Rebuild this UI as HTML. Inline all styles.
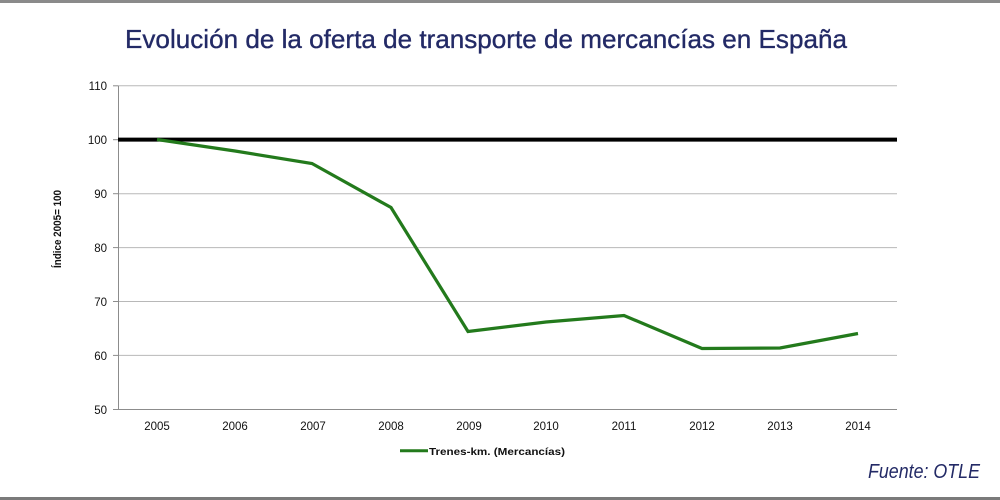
<!DOCTYPE html>
<html>
<head>
<meta charset="utf-8">
<style>
html,body{margin:0;padding:0;background:#fff;}
svg{display:block;}
text{font-family:"Liberation Sans",sans-serif;}
</style>
</head>
<body>
<svg width="1000" height="500" viewBox="0 0 1000 500" xmlns="http://www.w3.org/2000/svg">
  <rect x="0" y="0" width="1000" height="500" fill="#ffffff"/>
  <rect x="0" y="0" width="1000" height="3" fill="#8a8a8a"/>
  <rect x="0" y="497" width="1000" height="3" fill="#7a7a7a"/>

  <!-- Title -->
  <text x="125" y="48" font-size="26" fill="#232a66" stroke="#232a66" stroke-width="0.35" textLength="722" lengthAdjust="spacingAndGlyphs">Evolución de la oferta de transporte de mercancías en España</text>

  <!-- gridlines -->
  <g stroke="#b8b8b8" stroke-width="1">
    <line x1="118" y1="85.8" x2="897" y2="85.8"/>
    <line x1="118" y1="193.7" x2="897" y2="193.7"/>
    <line x1="118" y1="247.6" x2="897" y2="247.6"/>
    <line x1="118" y1="301.5" x2="897" y2="301.5"/>
    <line x1="118" y1="355.4" x2="897" y2="355.4"/>
  </g>
  <!-- axes -->
  <g stroke="#8c8c8c" stroke-width="1">
    <line x1="118.5" y1="85.8" x2="118.5" y2="409.5"/>
    <line x1="118" y1="409.5" x2="897" y2="409.5"/>
    <line x1="113" y1="85.8" x2="118" y2="85.8"/>
    <line x1="113" y1="139.7" x2="118" y2="139.7"/>
    <line x1="113" y1="193.7" x2="118" y2="193.7"/>
    <line x1="113" y1="247.6" x2="118" y2="247.6"/>
    <line x1="113" y1="301.5" x2="118" y2="301.5"/>
    <line x1="113" y1="355.4" x2="118" y2="355.4"/>
    <line x1="113" y1="409.5" x2="118" y2="409.5"/>
  </g>

  <!-- y tick labels -->
  <g font-size="11.5" fill="#111" text-anchor="end">
    <text x="107" y="89.8">110</text>
    <text x="107" y="143.8">100</text>
    <text x="107" y="197.8">90</text>
    <text x="107" y="251.8">80</text>
    <text x="107" y="305.8">70</text>
    <text x="107" y="359.8">60</text>
    <text x="107" y="413.8">50</text>
  </g>

  <!-- x tick labels -->
  <g font-size="11.5" fill="#111" text-anchor="middle">
    <text x="157" y="430">2005</text>
    <text x="235" y="430">2006</text>
    <text x="313" y="430">2007</text>
    <text x="391" y="430">2008</text>
    <text x="469" y="430">2009</text>
    <text x="546" y="430">2010</text>
    <text x="624" y="430">2011</text>
    <text x="702" y="430">2012</text>
    <text x="780" y="430">2013</text>
    <text x="858" y="430">2014</text>
  </g>

  <!-- y axis title -->
  <text x="0" y="0" font-size="11" font-weight="bold" fill="#111" text-anchor="middle" transform="translate(61,229) rotate(-90)" textLength="78" lengthAdjust="spacingAndGlyphs">Índice 2005= 100</text>

  <!-- reference line at 100 -->
  <line x1="118" y1="139.6" x2="897" y2="139.6" stroke="#000" stroke-width="4"/>

  <!-- series -->
  <polyline fill="none" stroke="#237a1c" stroke-width="3.2" stroke-linejoin="miter"
    points="157,139.5 235,151 312,163.5 391,207.5 468,331.5 546,322 624,315.5 702,348.5 780,348 858,333.5"/>

  <!-- legend -->
  <line x1="400" y1="450.7" x2="428" y2="450.7" stroke="#237a1c" stroke-width="3"/>
  <text x="429" y="455" font-size="10.5" font-weight="bold" fill="#111" textLength="136" lengthAdjust="spacingAndGlyphs">Trenes-km. (Mercancías)</text>

  <!-- source -->
  <text x="980" y="478" font-size="20" font-style="italic" fill="#232a66" text-anchor="end" textLength="112" lengthAdjust="spacingAndGlyphs">Fuente: OTLE</text>
</svg>
</body>
</html>
